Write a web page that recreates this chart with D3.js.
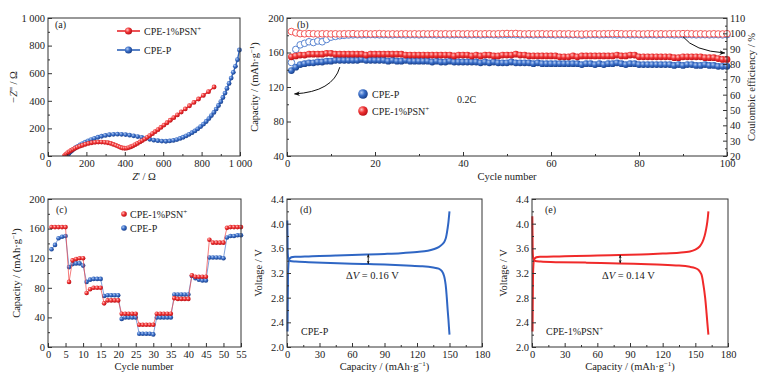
<!DOCTYPE html>
<html><head><meta charset="utf-8">
<script src="https://cdn.jsdelivr.net/npm/d3@7"></script>
<style>
body{margin:0;background:#fff}
text{font-family:"Liberation Serif","Times New Roman",serif;fill:#222}
.ax text{font-size:10.5px}
.ttl{font-size:10.5px}
</style>
</head><body><svg id="c" width="771" height="385"></svg>
<script>
// ---------- (a) Nyquist ----------
const aRedX = [85,90,96,103,111,120,130,141,153,166,180,195,211,228,245,262,279,296,312,327,341,354,366,377,388,399,410,421,432,443,454,466,479,491,504,517,530,544,558,573,588,604,620,637,655,674,694,715,737,760,784,809,836,865];
const aRedY = [0,8,16,24,32,40,48,56,64,71,78,85,91,96,99,101,101,99,96,91,84,77,70,63,58,56,57,61,67,74,82,91,102,112,123,135,148,162,176,191,207,224,241,259,278,298,319,341,364,388,413,439,466,500];
const aBlueX = [100,104,110,117,125,134,144,155,167,180,194,209,225,242,260,279,299,320,341,362,383,404,425,446,467,488,509,530,551,572,593,614,634,653,671,688,704,720,735,750,765,780,795,810,824,838,851,864,876,888,900,911,922,932,943,954,965,976,987,997];
const aBlueY = [0,10,20,30,40,50,60,70,80,90,100,110,119,128,136,143,149,154,157,158,157,155,151,146,141,135,128,121,115,111,108,107,109,113,119,127,136,146,157,169,182,197,213,231,250,271,293,316,340,366,394,424,456,490,526,565,606,650,698,768];
const aTicks = [0,200,400,600,800,1000];
const aTickLabels = ["0","200","400","600","800","1 000"];

// ---------- (b) cycling ----------
const bBlueCap = [139,143,146,147,148,148,149,149,150,150, 151,151,151,151,151,151,152,151,151,151, 151,151,150,151,150,150,151,150,150,150, 150,150,149,150,149,149,150,149,149,149, 149,149,149,148,149,148,149,148,148,148, 149,148,148,148,148,147,148,147,147,147, 147,147,147,147,147,147,146,147,147,146, 147,146,147,147,148,147,146,147,147,146, 146,146,146,146,146,146,146,145,146,145, 146,146,145,145,146,145,145,144,144,144];
const bRedCap = [155,156,157,157,158,158,158,158,159,159, 158,158,158,158,158,158,158,157,158,158, 158,158,158,158,158,158,157,157,157,157, 157,157,157,157,157,157,157,156,157,157, 157,156,157,156,157,157,156,156,157,157, 157,158,157,157,156,156,156,156,156,156, 156,155,155,155,156,155,156,156,156,156, 156,156,156,156,157,156,156,157,157,155, 155,155,155,155,155,155,155,154,154,155, 155,155,155,155,154,154,154,153,152,152];
const bRedCE = [101.2,100.3,99.8,99.7,99.8,99.7,99.6,99.7,99.7,99.6, 99.7,99.6,99.7,99.7,99.8,99.6,99.7,99.7,99.6,99.7, 99.8,99.7,99.6,99.7,99.6,99.7,99.7,99.6,99.7,99.6, 99.7,99.6,99.7,99.7,99.6,99.7,99.6,99.7,99.7,99.6, 99.7,99.6,99.7,99.6,99.7,99.7,99.6,99.7,99.8,99.9, 99.8,99.9,99.7,99.6,99.7,99.6,99.7,99.7,99.6,99.7, 99.6,99.7,99.6,99.7,99.5,99.6,99.5,99.6,99.6,99.7, 99.6,99.7,99.7,99.8,99.8,99.7,99.6,99.7,99.7,99.6, 99.6,99.7,99.7,99.6,99.7,99.6,99.7,99.7,99.7,99.8, 99.8,99.7,99.6,99.7,99.6,99.6,99.7,99.6,99.6,99.8];
const bBlueCE = [81,89.5,92.5,93.5,94.5,94,95,94.5,96,97.5, 98,98.4,98.7,98.9,99,99.1,99,99.1,99.2,99.1, 99,99.1,99.1,99,99.2,99.1,99,99.1,99.1,99, 99.1,99.2,99.1,99,99.1,99.1,99,99.1,99.2,99.1, 99,99.1,99.1,99,99.1,99.2,99.1,99,99.1,99.1, 99.2,99.1,99,99.1,99.1,99,99.1,99.1,99.2,99.1, 99,99.1,99.1,99,99.1,99.1,98.8,99,99.1,99.1, 99,99.1,99.2,99.1,99,99.1,99.1,99,99.1,99.1, 99,99.1,99.1,99,99.1,99.2,99.1,99,99.1,99.1, 99.2,99.1,99,99.1,99.1,99,99.1,99.1,99,99.1];
const bCapTicks = [40,80,120,160,200];
const bCETicks = [20,30,40,50,60,70,80,90,100,110];
const bXTicks = [0,20,40,60,80,100];

// ---------- (c) rate ----------
const cRed = [162,162,162,162,162, 88,117,119,120,120, 73,78,80,80,80, 59,63,63,63,63, 45,45,45,45,45, 30,30,30,30,30, 45,45,45,45,45, 66,65,65,65,65, 97,95,95,95,95, 145,141,141,141,141, 161,162,162,162,162];
const cBlue = [132,138,147,149,150, 108,112,113,113,110, 88,91,92,92,92, 69,70,70,70,70, 38,40,40,40,40, 18,18,18,18,17, 40,40,40,40,40, 71,71,71,71,71, 96,93,91,90,90, 121,121,121,121,120, 148,150,150,151,151];
const cXTicks = [0,5,10,15,20,25,30,35,40,45,50,55];
const cYTicks = [0,40,80,120,160,200];

// ---------- (d) CPE-P voltage profile ----------
const dChCap = [0.5,0.8,1.2,2,4,10,20,30,45,60,75,90,105,120,130,136,140,143,145,146.5,147.5,148.3,149,149.5,150];
const dChV   = [2.25,2.9,3.3,3.42,3.455,3.462,3.468,3.474,3.483,3.49,3.50,3.51,3.522,3.54,3.56,3.59,3.62,3.66,3.70,3.76,3.84,3.93,4.02,4.11,4.2];
const dDiCap = [0.3,0.5,0.8,1.5,3,8,20,40,60,75,90,110,125,135,140,143,145,146.5,147.5,148.3,149,149.5,150];
const dDiV   = [4.05,3.8,3.5,3.41,3.395,3.385,3.375,3.362,3.352,3.345,3.336,3.322,3.31,3.29,3.27,3.23,3.15,3.0,2.8,2.6,2.45,2.32,2.2];
// ---------- (e) CPE-1%PSN+ voltage profile ----------
const eChCap = [0.5,0.8,1.2,2,4,10,25,40,60,80,100,120,135,145,150,154,156.5,158.5,160,161,161.6,162];
const eChV   = [2.25,2.9,3.3,3.42,3.455,3.462,3.468,3.474,3.482,3.49,3.50,3.515,3.53,3.55,3.58,3.63,3.70,3.80,3.92,4.03,4.12,4.2];
const eDiCap = [0.3,0.5,0.8,1.5,3,8,25,50,80,100,120,135,145,150,153,155.5,157.5,159,160.3,161,161.6,162];
const eDiV   = [4.12,3.8,3.5,3.41,3.395,3.385,3.375,3.368,3.355,3.345,3.335,3.32,3.30,3.28,3.25,3.18,3.0,2.8,2.55,2.4,2.28,2.2];
const vTicks = [2.0,2.4,2.8,3.2,3.6,4.0,4.4];
const capTicks = [0,30,60,90,120,150,180];

const RED = "#e8282d", BLUE = "#2f62b8";
const svg = d3.select("#c");
const defs = svg.append("defs");
function grad(id, c0, c1, c2){
  const g = defs.append("radialGradient").attr("id",id).attr("cx","35%").attr("cy","35%").attr("r","70%");
  g.append("stop").attr("offset","0%").attr("stop-color",c0);
  g.append("stop").attr("offset","45%").attr("stop-color",c1);
  g.append("stop").attr("offset","100%").attr("stop-color",c2);
}
grad("gR","#ffc4c4","#f03434","#b50c14");
grad("gB","#b4ccf2","#3a6ec8","#163c86");
function mk(id, color, sz){
  defs.append("marker").attr("id",id).attr("viewBox","0 0 10 10").attr("refX",9).attr("refY",5)
    .attr("markerWidth",sz).attr("markerHeight",sz).attr("orient","auto-start-reverse")
    .append("path").attr("d","M0,1 L10,5 L0,9 L3,5 Z").attr("fill",color);
}
mk("ah","#111",6); mk("ahs","#111",4);

function axes(g, x, y, o){
  const [x0,x1] = x.range(), [y1,y0] = y.range();
  const bx = g.append("g").attr("class","ax").attr("transform",`translate(0,${y1})`);
  bx.call(d3.axisBottom(x).tickValues(o.xMinor).tickSize(-2).tickFormat(""));
  const bx2 = g.append("g").attr("class","ax").attr("transform",`translate(0,${y1})`);
  bx2.call(d3.axisBottom(x).tickValues(o.xt).tickSize(-4).tickPadding(4).tickFormat((d,i)=>o.xl[i]));
  const ly = g.append("g").attr("class","ax").attr("transform",`translate(${x0},0)`);
  ly.call(d3.axisLeft(y).tickValues(o.yMinor).tickSize(-2).tickFormat(""));
  const ly2 = g.append("g").attr("class","ax").attr("transform",`translate(${x0},0)`);
  ly2.call(d3.axisLeft(y).tickValues(o.yt).tickSize(-4).tickPadding(3).tickFormat((d,i)=>o.yl[i]));
  g.selectAll(".ax .domain").remove();
  g.selectAll(".ax").attr("color","#333").attr("font-size",null).attr("font-family",null);
  g.append("rect").attr("x",x0).attr("y",y0).attr("width",x1-x0).attr("height",y1-y0)
    .attr("fill","none").attr("stroke","#333").attr("stroke-width",1);
}
function capLabel(t){
  t.append("tspan").text("Capacity / (mAh\u00b7g");
  t.append("tspan").attr("dy",-4).attr("font-size","7px").text("\u22121");
  t.append("tspan").attr("dy",4).text(")");
}
function sup(t, base, s){
  t.append("tspan").text(base);
  t.append("tspan").attr("dy",-4).attr("font-size","7px").text(s);
}
function vlabel(x,y,fn){
  const t = svg.append("text").attr("class","ttl").attr("transform",`translate(${x},${y}) rotate(-90)`).attr("text-anchor","middle");
  fn(t); return t;
}
function hlabel(x,y,fn){
  const t = svg.append("text").attr("class","ttl").attr("x",x).attr("y",y).attr("text-anchor","middle");
  fn(t); return t;
}

// ===== Panel (a) =====
{
  const g = svg.append("g");
  const x = d3.scaleLinear().domain([0,1000]).range([48,240]);
  const y = d3.scaleLinear().domain([0,1000]).range([156,18]);
  const clip = defs.append("clipPath").attr("id","clipA");
  clip.append("rect").attr("x",48).attr("y",14).attr("width",196).attr("height",142);
  const line = d3.line().x(d=>x(d[0])).y(d=>y(d[1]));
  const series = [[aBlueX,aBlueY,BLUE,"url(#gB)"],[aRedX,aRedY,RED,"url(#gR)"]];
  const pg = g.append("g").attr("clip-path","url(#clipA)");
  series.forEach(([xs,ys,c,f])=>{
    const pts = xs.map((v,i)=>[v,ys[i]]);
    pg.append("path").attr("d",line(pts)).attr("fill","none").attr("stroke",c).attr("stroke-width",1.4);
    pg.selectAll(null).data(pts).join("circle").attr("cx",d=>x(d[0])).attr("cy",d=>y(d[1])).attr("r",2.4).attr("fill",f);
  });
  axes(g,x,y,{xt:aTicks,xl:aTickLabels,xMinor:d3.range(100,1000,200),yt:aTicks,yl:aTickLabels,yMinor:d3.range(100,1000,200)});
  svg.append("text").attr("x",55).attr("y",28).attr("font-size","10px").text("(a)");
  const leg = [["CPE-1%PSN","+",RED,"url(#gR)",31],["CPE-P","",BLUE,"url(#gB)",50]];
  leg.forEach(([t,s,c,f,yy])=>{
    svg.append("line").attr("x1",117).attr("x2",140).attr("y1",yy).attr("y2",yy).attr("stroke",c).attr("stroke-width",1.6);
    svg.append("circle").attr("cx",128.5).attr("cy",yy).attr("r",3.6).attr("fill",f);
    const tt = svg.append("text").attr("x",144).attr("y",yy+3.5).attr("font-size","10px");
    sup(tt,t,s);
  });
  vlabel(17,87,t=>{t.append("tspan").text("\u2212"); t.append("tspan").attr("font-style","italic").text("Z"); t.append("tspan").text("'' / \u03a9");});
  hlabel(144,180,t=>{t.append("tspan").attr("font-style","italic").text("Z"); t.append("tspan").text("' / \u03a9");});
}

// ===== Panel (b) =====
{
  const g = svg.append("g");
  const x = d3.scaleLinear().domain([0,100]).range([287,727]);
  const y = d3.scaleLinear().domain([40,200]).range([156,18]);
  const y2 = d3.scaleLinear().domain([20,110]).range([156,18]);
  const cyc = d3.range(1,101);
  const pg = g.append("g");
  pg.selectAll(null).data(cyc).join("circle").attr("cx",d=>x(d)).attr("cy",(d,i)=>y2(bBlueCE[i])).attr("r",3.3)
    .attr("fill","#fff").attr("stroke","#4a78cc").attr("stroke-width",0.9);
  pg.selectAll(null).data(cyc).join("circle").attr("cx",d=>x(d)).attr("cy",(d,i)=>y2(bRedCE[i])).attr("r",3.3)
    .attr("fill","#fff").attr("stroke","#f04444").attr("stroke-width",0.9);
  pg.selectAll(null).data(cyc).join("circle").attr("cx",d=>x(d)).attr("cy",(d,i)=>y(bBlueCap[i])).attr("r",3.4).attr("fill","url(#gB)");
  pg.selectAll(null).data(cyc).join("circle").attr("cx",d=>x(d)).attr("cy",(d,i)=>y(bRedCap[i])).attr("r",3.4).attr("fill","url(#gR)");
  axes(g,x,y,{xt:bXTicks,xl:bXTicks.map(String),xMinor:d3.range(10,100,20),yt:bCapTicks,yl:bCapTicks.map(String),yMinor:d3.range(60,200,40)});
  const ry = g.append("g").attr("class","ax").attr("transform","translate(727,0)");
  ry.call(d3.axisRight(y2).tickValues(bCETicks).tickSize(-4).tickPadding(3));
  const ry2 = g.append("g").attr("class","ax").attr("transform","translate(727,0)");
  ry2.call(d3.axisRight(y2).tickValues(d3.range(25,110,10)).tickSize(-2).tickFormat(""));
  g.selectAll(".ax .domain").remove();
  g.selectAll(".ax").attr("color","#333").attr("font-size",null).attr("font-family",null);
  svg.append("text").attr("x",297).attr("y",28).attr("font-size","10px").text("(b)");
  // arrows
  const aL = [[12,143],[10.4,114.5],[1.7,112]];
  svg.append("path").attr("d",`M${x(aL[0][0])},${y(aL[0][1])} Q${x(aL[1][0])},${y(aL[1][1])} ${x(aL[2][0])},${y(aL[2][1])}`)
    .attr("fill","none").attr("stroke","#111").attr("stroke-width",1).attr("marker-end","url(#ah)");
  const aR = [[90,97.8],[92.5,88.5],[99.5,87.2]];
  svg.append("path").attr("d",`M${x(aR[0][0])},${y2(aR[0][1])} Q${x(aR[1][0])},${y2(aR[1][1])} ${x(aR[2][0])},${y2(aR[2][1])}`)
    .attr("fill","none").attr("stroke","#111").attr("stroke-width",1).attr("marker-end","url(#ah)");
  const leg = [["CPE-P","","url(#gB)",94],["CPE-1%PSN","+","url(#gR)",111]];
  leg.forEach(([t,s,f,yy])=>{
    svg.append("circle").attr("cx",363).attr("cy",yy).attr("r",4.8).attr("fill",f);
    const tt = svg.append("text").attr("x",372).attr("y",yy+3.5).attr("font-size","10px");
    sup(tt,t,s);
  });
  svg.append("text").attr("x",457).attr("y",103).attr("font-size","10px").text("0.2C");
  vlabel(258,87,capLabel);
  vlabel(755,87,t=>t.text("Coulombic efficiency / %"));
  hlabel(507,180,t=>t.text("Cycle number"));
}

// ===== Panel (c) =====
{
  const g = svg.append("g");
  const x = d3.scaleLinear().domain([0,55]).range([48,241]);
  const y = d3.scaleLinear().domain([0,200]).range([347,199]);
  const cyc = d3.range(1,56);
  const line = d3.line().x(d=>x(d[0])).y(d=>y(d[1]));
  [[cBlue,"#4a78cc","url(#gB)"],[cRed,"#f04444","url(#gR)"]].forEach(([vals,c,f])=>{
    const pts = cyc.map((d,i)=>[d,vals[i]]);
    g.append("path").attr("d",line(pts)).attr("fill","none").attr("stroke",c).attr("stroke-width",0.7);
    g.selectAll(null).data(pts).join("circle").attr("cx",d=>x(d[0])).attr("cy",d=>y(d[1])).attr("r",2.3).attr("fill",f);
  });
  axes(g,x,y,{xt:cXTicks,xl:cXTicks.map(String),xMinor:[],yt:cYTicks,yl:cYTicks.map(String),yMinor:d3.range(20,200,40)});
  svg.append("text").attr("x",56).attr("y",213).attr("font-size","10px").text("(c)");
  const leg = [["CPE-1%PSN","+","url(#gR)",214],["CPE-P","","url(#gB)",228]];
  leg.forEach(([t,s,f,yy])=>{
    svg.append("circle").attr("cx",124).attr("cy",yy).attr("r",2.8).attr("fill",f);
    const tt = svg.append("text").attr("x",130).attr("y",yy+3.5).attr("font-size","10px");
    sup(tt,t,s);
  });
  vlabel(20,273,capLabel);
  hlabel(144,370,t=>t.text("Cycle number"));
}

// ===== Panels (d) and (e) =====
function vpanel(x0,x1,ch,chv,di,div,color,tag,name,sfx,dvText,dvCap,dvLo,dvHi,txtX){
  const g = svg.append("g");
  const x = d3.scaleLinear().domain([0,180]).range([x0,x1]);
  const y = d3.scaleLinear().domain([2.0,4.4]).range([347,199]);
  const line = d3.line().x(d=>x(d[0])).y(d=>y(d[1])).curve(d3.curveCatmullRom.alpha(0.5));
  g.append("path").attr("d",line(ch.map((c,i)=>[c,chv[i]]))).attr("fill","none").attr("stroke",color).attr("stroke-width",2);
  g.append("path").attr("d",line(di.map((c,i)=>[c,div[i]]))).attr("fill","none").attr("stroke",color).attr("stroke-width",2);
  axes(g,x,y,{xt:capTicks,xl:capTicks.map(String),xMinor:d3.range(15,180,30),yt:vTicks,yl:vTicks.map(d=>d.toFixed(1)),yMinor:d3.range(2.2,4.4,0.4)});
  g.append("line").attr("x1",x(dvCap)).attr("x2",x(dvCap)).attr("y1",y(dvLo)).attr("y2",y(dvHi))
    .attr("stroke","#111").attr("stroke-width",0.9).attr("marker-start","url(#ahs)").attr("marker-end","url(#ahs)");
  svg.append("text").attr("x",x0+13).attr("y",213).attr("font-size","10px").text(tag);
  const tt = svg.append("text").attr("x",x0+14).attr("y",335).attr("font-size","10px");
  sup(tt,name,sfx);
  const dv = svg.append("text").attr("x",txtX).attr("y",279).attr("font-size","10.5px");
  dv.append("tspan").text("\u0394"); dv.append("tspan").attr("font-style","italic").text("V");
  dv.append("tspan").text(" = " + dvText);
  vlabel(x0-25,273,t=>t.text("Voltage / V"));
  hlabel((x0+x1)/2,370,capLabel);
}
vpanel(287,482,dChCap,dChV,dDiCap,dDiV,"#2f66c4","(d)","CPE-P","","0.16 V",75,3.35,3.5,346);
vpanel(532,728,eChCap,eChV,eDiCap,eDiV,"#f02a2a","(e)","CPE-1%PSN","+","0.14 V",81,3.36,3.49,602);
</script>
</body></html>
